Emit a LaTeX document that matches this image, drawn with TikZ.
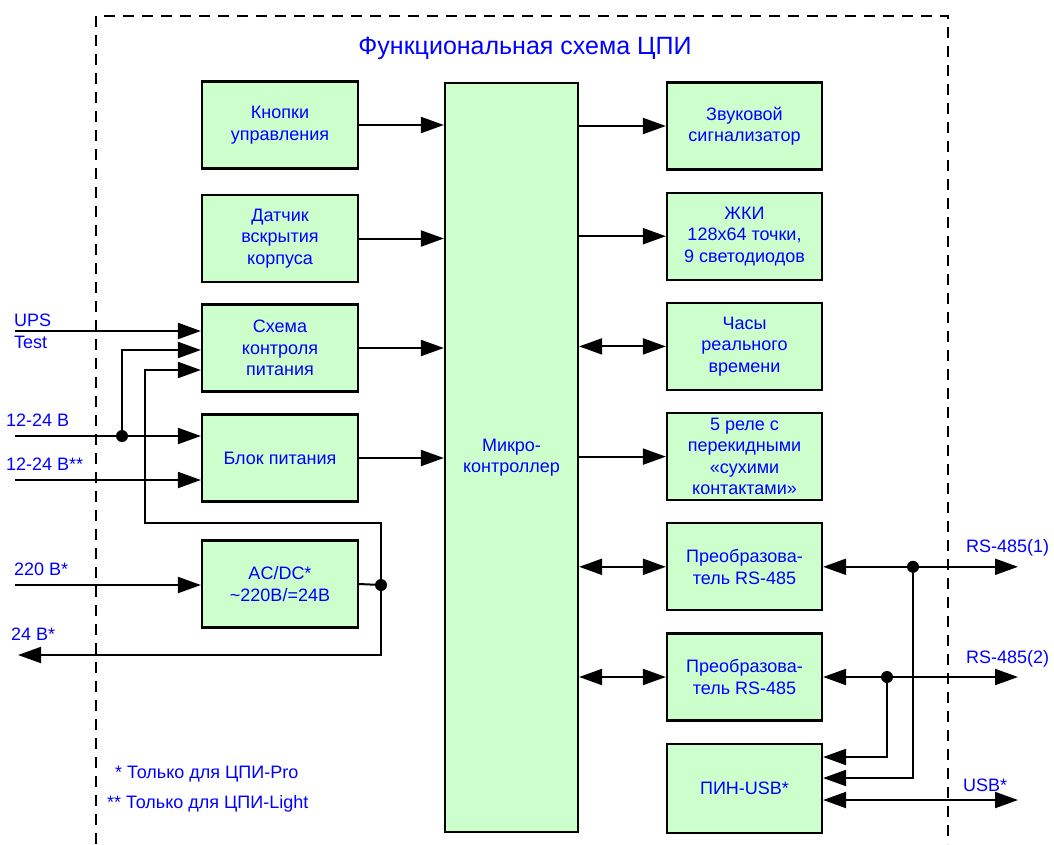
\documentclass[tikz,border=0pt]{standalone}
\usepackage{fontspec}
\setmainfont{Liberation Sans}
\usetikzlibrary{arrows.meta,positioning}
\definecolor{boxgreen}{HTML}{CCFFCC}
\definecolor{txtblue}{HTML}{0000FF}
\tikzset{
  block/.style={draw=black,line width=2.2pt,fill=boxgreen,align=center,text=txtblue,font=\fontsize{18}{21.5}\selectfont,minimum width=156pt,minimum height=87pt,inner sep=2pt},
  lbl/.style={text=txtblue,font=\fontsize{18}{22}\selectfont,inner sep=0pt,align=left},
  arrow/.style={-{Triangle[length=23pt,width=16pt]},line width=2pt,draw=black},
  biarrow/.style={{Triangle[length=23pt,width=16pt]}-{Triangle[length=23pt,width=16pt]},line width=2pt,draw=black},
  wire/.style={line width=2pt,draw=black},
  dot/.style={circle,fill=black,inner sep=0pt,minimum size=12pt}
}

\begin{document}
\begin{tikzpicture}[x=1pt,y=-1pt,node distance=21pt]
  \useasboundingbox (0,0) rectangle (1054,844);
  \draw[line width=2pt,dash pattern=on 11pt off 8pt] (96,844) -- (96,16) -- (948,16) -- (948,844);
  \node (title) [text=txtblue,font=\fontsize{25}{28}\selectfont] at (525,48) {Функциональная схема ЦПИ};

  % left column
  \node (knopki) [block] at (280,125) {Кнопки\\управления};
  \node (datchik) [block] at (280,238.5) {Датчик\\вскрытия\\корпуса};
  \node (ctrl) [block] at (280,348) {Схема\\контроля\\питания};
  \node (psu) [block] at (280,458) {Блок питания};
  \node (acdc) [block] at (280,584) {AC/DC*\\\textasciitilde220В/=24В};

  \node (mc) [block,minimum width=133pt,minimum height=749pt] at (511.5,457.5) {Микро-\\контроллер};

  % right column
  \node (zvuk) [block,minimum width=155pt] at (744.5,126) {Звуковой\\сигнализатор};
  \node (lcd) [block,minimum width=155pt,below=of zvuk] {ЖКИ\\128x64 точки,\\9 светодиодов};
  \node (rtc) [block,minimum width=155pt,below=of lcd] {Часы\\реального\\времени};
  \node (relay) [block,minimum width=155pt,below=of rtc] {5 реле с\\перекидными\\«сухими\\контактами»};
  \node (rsa) [block,minimum width=155pt,below=of relay] {Преобразова-\\тель RS-485};
  \node (rsb) [block,minimum width=155pt,below=of rsa] {Преобразова-\\тель RS-485};
  \node (usb) [block,minimum width=155pt,below=of rsb,minimum height=89pt] {ПИН-USB*};

  \draw[arrow] (knopki.east) -- (knopki.east -| mc.west);
  \draw[arrow] (datchik.east) -- (datchik.east -| mc.west);
  \draw[arrow] (ctrl.east) -- (ctrl.east -| mc.west);
  \draw[arrow] (psu.east) -- (psu.east -| mc.west);
  \draw[arrow] (mc.east |- zvuk.west) -- (zvuk.west);
  \draw[arrow] (mc.east |- lcd.west) -- (lcd.west);
  \draw[biarrow] (mc.east |- rtc.west) -- (rtc.west);
  \draw[arrow] (mc.east |- relay.west) -- (relay.west);
  \draw[biarrow] (mc.east |- rsa.west) -- (rsa.west);
  \draw[biarrow] (mc.east |- rsb.west) -- (rsb.west);

  % power inputs
  \coordinate (ups) at (15,331);
  \coordinate (vin) at (15,436);
  \coordinate (vinb) at (15,480);
  \coordinate (ac) at (15,585);
  \coordinate (vout) at (18,655);
  \node (upslbl) [lbl,anchor=west] at (14,331) {UPS\\Test};
  \node (vinlbl) [lbl,anchor=south west] at (6,427) {12-24 В};
  \node (vinblbl) [lbl,anchor=south west] at (6,471) {12-24 В**};
  \node (aclbl) [lbl,anchor=south west] at (14,576) {220 В*};
  \node (voutlbl) [lbl,anchor=south west] at (11,641) {24 В*};

  \draw[arrow] (ups) -- (ups -| ctrl.west);
  \draw[arrow] (vin) -- (vin -| psu.west);
  \draw[arrow] (vinb) -- (vinb -| psu.west);
  \draw[arrow] (ac) -- (ac -| acdc.west);
  \node (j1) [dot] at (122,436) {};
  \draw[arrow] (j1.center) -- (122,350) -- (ctrl.west |- 0,350);
  \node (j2) [dot] at (381,585) {};
  \draw[wire] (acdc.east) -- (j2.center);
  \draw[arrow] (j2.center) -- (381,523) -- (145,523) -- (145,370) -- (ctrl.west |- 0,370);
  \draw[arrow] (j2.center) -- (381,655) -- (vout);

  % interfaces
  \coordinate (rs1) at (1018,0 |- rsa.east);
  \coordinate (rs2) at (1018,0 |- rsb.east);
  \coordinate (usbout) at (1018,800);
  \node (rs1lbl) [lbl,anchor=west] at (966,548) {RS-485(1)};
  \node (rs2lbl) [lbl,anchor=west] at (966,659) {RS-485(2)};
  \node (usblbl) [lbl,anchor=west] at (963,785) {USB*};
  \draw[biarrow] (rsa.east) -- (rs1);
  \draw[biarrow] (rsb.east) -- (rs2);
  \draw[biarrow] (usb.east |- usbout) -- (usbout);
  \node (j3) [dot] at (913,0 |- rsa.east) {};
  \node (j4) [dot] at (887,0 |- rsb.east) {};
  \draw[arrow] (j3.center) -- (913,778) -- (usb.east |- 0,778);
  \draw[arrow] (j4.center) -- (887,757) -- (usb.east |- 0,757);

  \node (note1) [lbl,anchor=west] at (115,774) {* Только для ЦПИ-Pro};
  \node (note2) [lbl,anchor=west] at (107,804) {** Только для ЦПИ-Light};
\end{tikzpicture}
\end{document}
